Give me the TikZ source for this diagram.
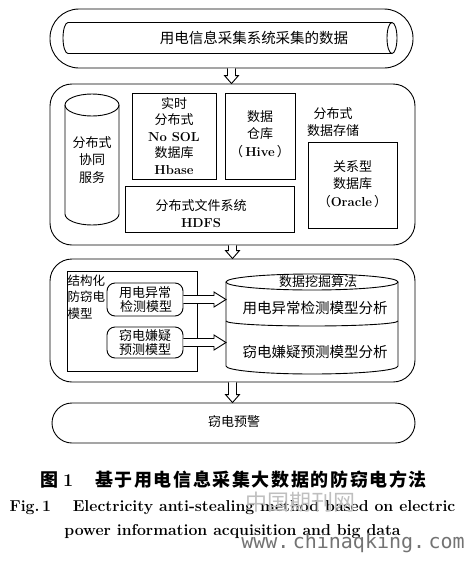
\documentclass[tikz,border=0pt]{standalone}
\usepackage{fontspec}
\usetikzlibrary{calc}
\newfontfamily\cjk{Noto Sans CJK SC}
\newfontfamily\cjkcap{Noto Sans CJK SC}[LetterSpace=9]
\newfontfamily\wmfont{DejaVu Sans Mono}
\newcommand\lat[1]{{\normalfont\bfseries #1}}
\newcommand\harrdown[2]{\draw[hol] let \p1=(#1), \p2=(#2) in (\x1-4pt,\y1) -- (\x1-4pt,\y2+8pt) -- (\x1-7pt,\y2+8pt) -- (\x1,\y2) -- (\x1+7pt,\y2+8pt) -- (\x1+4pt,\y2+8pt) -- (\x1+4pt,\y1);}
\newcommand\harrright[2]{\draw[hol] let \p1=(#1), \p2=(#2) in (\x1,\y1+4pt) -- (\x2-12pt,\y1+4pt) -- (\x2-12pt,\y1+7.5pt) -- (\x2,\y1) -- (\x2-12pt,\y1-7.5pt) -- (\x2-12pt,\y1-4pt) -- (\x1,\y1-4pt);}
\tikzset{
  ln/.style={line width=0.9pt},
  bigbox/.style={draw, ln, rounded corners=22pt, inner sep=0pt},
  sqbox/.style={draw, ln, inner sep=0pt, align=center, font=\cjk\fontsize{13}{16.5}\selectfont},
  rbox/.style={draw, ln, rounded corners=8pt, inner sep=0pt, align=center, font=\cjk\fontsize{13}{14}\selectfont},
  txt/.style={align=center, inner sep=0pt, font=\cjk\fontsize{13}{17.5}\selectfont},
  bigtxt/.style={align=center, inner sep=0pt, font=\cjk\fontsize{14.5}{17}\selectfont},
  hol/.style={draw, ln, line join=miter, fill=white}
}
\begin{document}
\begin{tikzpicture}[x=1pt,y=-1pt]
\useasboundingbox (0,0) rectangle (469,563);
% ---- top: collected data
\node[bigbox, rounded corners=29pt, minimum width=363pt, minimum height=59pt] (top) at (231.5,38.5) {};
\draw[ln] (68,22.5) -- (392,22.5);
\draw[ln] (68,53.5) -- (392,53.5);
\draw[ln] (68,22.5) arc[start angle=270, end angle=90, x radius=5, y radius=15.5];
\draw[ln] (392,38) ellipse[x radius=5, y radius=15.5];
\node[bigtxt] (data) at (254,37.5) {用电信息采集系统采集的数据};
% ---- storage
\node[bigbox, minimum width=365pt, minimum height=161pt] (store) at (232.5,164.5) {};
\draw[ln] (92,105) ellipse[x radius=27, y radius=11];
\draw[ln] (65,105) -- (65,214) arc[start angle=180, end angle=0, x radius=27, y radius=11] -- (119,105);
\node[txt] (coord) at (92,160) {分布式\\协同\\服务};
\node[sqbox, minimum width=84pt, minimum height=86pt] (hbase) at (174,136)
  {实时\\分布式\\\lat{No SOL}\\数据库\\\lat{Hbase}};
\node[sqbox, minimum width=70pt, minimum height=86pt] (hive) at (260,136) {};
\node[txt] (hivet) at (260,134) {数据\\仓库\\{（}\,\lat{Hive}\,{）}};
\node[txt] (dstore) at (333,122) {分布式\\数据存储};
\node[sqbox, minimum width=89pt, minimum height=86pt] (oracle) at (352.5,185) {};
\node[txt] (oraclet) at (352.5,184) {关系型\\数据库\\{（}\lat{Oracle}\,{）}};
\node[sqbox, minimum width=169pt, minimum height=46pt] (hdfs) at (209.5,209) {};
\node[txt] (hdfst) at (201,213.5) {分布式文件系统\\\lat{HDFS}};
% ---- models
\node[bigbox, minimum width=365pt, minimum height=123pt] (model) at (232.5,320.5) {};
\node[sqbox, minimum width=130pt, minimum height=100pt] (struct) at (132,321) {};
\node[anchor=north west, align=left, inner sep=0pt, font=\cjk\fontsize{12.5}{16.5}\selectfont] (structt) at (67.5,274.5) {结构化\\防窃电\\模型};
\node[rbox, fill=white, minimum width=76pt, minimum height=33pt] (abn) at (145,299.5) {用电异常\\\,检测模型};
\node[rbox, fill=white, minimum width=76pt, minimum height=31pt] (sus) at (145,342.5) {窃电嫌疑\\预测模型};
\draw[ln] (312,282) ellipse[x radius=86, y radius=8];
\draw[ln] (226,282) -- (226,366) arc[start angle=180, end angle=0, x radius=86, y radius=8] -- (398,282);
\draw[ln] (226,321) arc[start angle=180, end angle=0, x radius=86, y radius=5];
\coordinate (c1) at (226,299.5);
\coordinate (c2) at (226,342.5);
\node[txt] (mine) at (318,281.5) {数据挖掘算法};
\node[bigtxt] (abnA) at (315,308) {用电异常检测模型分析};
\node[bigtxt] (susA) at (315,352) {窃电嫌疑预测模型分析};
\harrright{abn.east}{c1}
\harrright{sus.east}{c2}
% ---- alarm
\node[bigbox, rounded corners=20pt, minimum width=363pt, minimum height=40pt] (alarm) at (233.5,423) {};
\node[txt] (alarmt) at (234,422) {窃电预警};
% ---- connectors
\harrdown{top.south}{store.north}
\harrdown{store.south}{model.north}
\harrdown{model.south}{alarm.north}
% ---- caption
\node[anchor=west, inner sep=0pt, font=\fontsize{18}{20}\selectfont] (fig) at (40,480) {{\cjk\bfseries 图}\;\lat{1}};
\node[inner sep=0pt, font=\cjkcap\bfseries\fontsize{18}{20}\selectfont] (title) at (261,480) {基于用电信息采集大数据的防窃电方法};
\node[inner sep=0pt, font=\bfseries\fontsize{15.8}{18}\selectfont] (en1) at (232.5,508) {Fig.\,1\quad\ Electricity anti-stealing method based on electric};
\node[inner sep=0pt, font=\bfseries\fontsize{15.8}{18}\selectfont] (en2) at (232.5,532) {power information acquisition and big data};
% ---- watermark
\node[inner sep=0pt, text=black!25, font=\cjk\fontsize{22}{22}\selectfont] (wm1) at (300,502) {中国期刊网};
\node[inner sep=0pt, text=black!55, font=\wmfont\fontsize{20}{20}\selectfont] (wm2) at (353,543) {www.\,chinaqking.\,com};
\end{tikzpicture}
\end{document}
